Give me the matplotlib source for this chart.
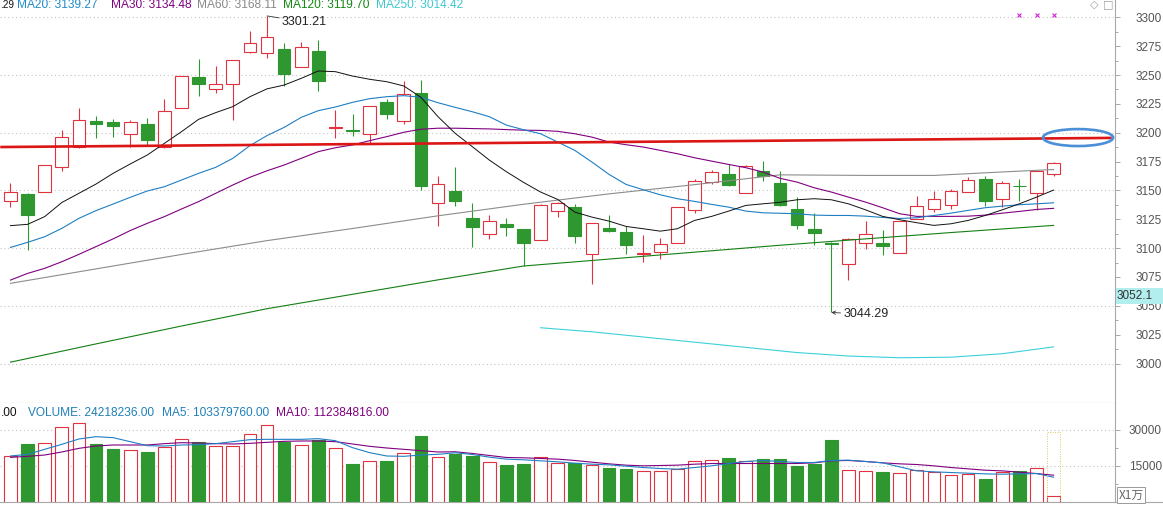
import numpy as np
import matplotlib
matplotlib.use("Agg")
import matplotlib.pyplot as plt
from matplotlib.patches import Ellipse, Rectangle

W, H = 1163, 505

# daily candles (index 0..61)
opens = [3141.1, 3146.9, 3148.3, 3170.0, 3187.9, 3210.1, 3209.3, 3198.6, 3207.5, 3187.9,
         3221.1, 3248.3, 3237.6, 3241.9, 3270.2, 3269.4, 3272.2, 3257.2, 3270.8, 3203.8,
         3202.6, 3198.6, 3226.6, 3209.9, 3234.4, 3138.8, 3149.5, 3125.8, 3111.9, 3120.9,
         3116.5, 3107.2, 3132.4, 3135.3, 3094.8, 3117.1, 3113.6, 3095.1, 3096.5, 3104.6,
         3133.2, 3157.2, 3163.9, 3148.0, 3167.1, 3156.6, 3133.5, 3116.2, 3104.6, 3086.4,
         3104.6, 3104.6, 3095.7, 3125.4, 3133.8, 3137.6, 3148.8, 3160.1, 3142.5, 3154.0,
         3148.0, 3164.5]
highs = [3156.4, 3148.0, 3172.0, 3202.4, 3221.1, 3214.5, 3212.2, 3211.0, 3212.5, 3229.2,
         3249.0, 3263.9, 3257.8, 3263.0, 3288.1, 3301.21, 3277.4, 3278.9, 3280.3, 3219.7,
         3215.9, 3223.0, 3228.9, 3244.8, 3245.7, 3162.8, 3170.6, 3139.4, 3128.7, 3126.1,
         3117.0, 3138.0, 3140.0, 3138.2, 3122.0, 3128.3, 3118.8, 3111.0, 3108.4, 3136.0,
         3159.8, 3167.9, 3172.5, 3172.3, 3175.1, 3167.1, 3144.2, 3130.6, 3105.0, 3108.5,
         3123.4, 3115.9, 3123.3, 3144.8, 3149.4, 3151.4, 3161.6, 3162.7, 3158.1, 3159.5,
         3167.5, 3174.5]
lows = [3135.9, 3098.4, 3148.3, 3167.0, 3187.0, 3195.7, 3196.3, 3187.9, 3188.8, 3187.0,
        3221.1, 3232.1, 3234.1, 3210.7, 3268.8, 3264.4, 3240.5, 3257.0, 3236.4, 3195.7,
        3197.4, 3190.8, 3212.2, 3207.8, 3150.3, 3119.4, 3136.8, 3101.2, 3107.6, 3110.8,
        3084.5, 3107.0, 3126.9, 3104.3, 3069.1, 3113.9, 3094.5, 3087.9, 3090.8, 3104.4,
        3130.3, 3155.2, 3153.5, 3148.0, 3158.4, 3136.1, 3116.5, 3102.9, 3044.29, 3072.0,
        3099.4, 3094.2, 3095.5, 3125.0, 3131.2, 3134.1, 3148.5, 3136.1, 3135.5, 3140.8,
        3132.7, 3162.4]
closes = [3148.4, 3129.0, 3172.0, 3196.0, 3210.7, 3207.8, 3205.8, 3209.0, 3194.0, 3218.8,
          3248.8, 3242.5, 3241.9, 3262.7, 3277.4, 3283.2, 3251.2, 3274.0, 3245.1, 3204.7,
          3201.2, 3222.8, 3216.5, 3233.2, 3154.1, 3155.6, 3141.1, 3118.6, 3123.5, 3118.6,
          3104.1, 3137.6, 3139.3, 3110.4, 3122.0, 3114.7, 3102.6, 3096.0, 3103.8, 3135.8,
          3158.4, 3165.6, 3154.6, 3171.4, 3162.1, 3137.6, 3119.9, 3113.3, 3103.8, 3108.1,
          3112.4, 3101.7, 3123.1, 3136.7, 3142.8, 3149.7, 3159.2, 3141.0, 3156.6, 3153.5,
          3167.1, 3174.0]

# volume in units of 1万
volumes = [19040, 24170, 24440, 31110, 32780, 24170, 22080, 21670, 20830, 22780,
           26110, 24860, 23470, 23470, 28190, 31940, 24860, 23610, 25830, 22360,
           15830, 16940, 17080, 20280, 27500, 18640, 19950, 19110, 16460, 15350,
           15760, 18830, 16320, 16320, 15210, 14090, 13670, 13110, 13110, 13670,
           16880, 17300, 18140, 16880, 17720, 17720, 14930, 15760, 25810, 13530,
           13110, 12420, 12280, 13250, 12560, 11160, 11580, 9490, 12560, 12830,
           14370, 2370]

ma10 = [3119.5, 3120.6, 3127.3, 3139.5, 3147.5, 3155.5, 3164.8, 3172.9, 3180.7, 3190.8,
        3200.9, 3211.6, 3217.4, 3222.6, 3231.2, 3238.0, 3241.3, 3247.1, 3253.5, 3252.9,
        3249.1, 3246.3, 3244.2, 3240.5, 3230.7, 3213.9, 3199.5, 3188.0, 3176.3, 3166.2,
        3157.0, 3148.6, 3142.2, 3131.2, 3126.9, 3123.4, 3118.8, 3116.8, 3114.7, 3116.8,
        3124.0, 3127.5, 3132.1, 3137.0, 3138.4, 3139.7, 3141.9, 3142.8, 3141.9, 3138.4,
        3133.2, 3127.5, 3124.6, 3122.0, 3119.7, 3121.1, 3124.0, 3128.3, 3133.2, 3138.4,
        3144.2, 3150.3]
ma20 = [3100.6, 3105.0, 3109.9, 3117.1, 3125.8, 3132.5, 3138.2, 3144.0, 3149.5, 3153.2,
        3159.0, 3164.8, 3170.0, 3177.8, 3188.8, 3197.5, 3204.6, 3213.3, 3219.1, 3222.3,
        3226.3, 3229.5, 3231.2, 3232.1, 3230.7, 3226.0, 3222.0, 3218.2, 3213.9, 3206.6,
        3202.6, 3199.1, 3191.9, 3184.7, 3174.6, 3163.9, 3155.2, 3150.6, 3146.2, 3142.8,
        3140.5, 3137.9, 3135.5, 3132.1, 3130.6, 3130.2, 3129.8, 3128.6, 3128.3, 3128.3,
        3127.7, 3126.6, 3125.7, 3126.3, 3128.3, 3130.3, 3132.7, 3135.0, 3136.4, 3137.6,
        3138.4, 3139.27]
ma30 = [3072.3, 3078.1, 3082.5, 3088.2, 3094.6, 3101.3, 3108.0, 3115.2, 3121.5, 3127.3,
        3133.9, 3140.3, 3147.5, 3154.7, 3161.4, 3167.0, 3172.0, 3177.8, 3183.6, 3187.0,
        3189.4, 3193.1, 3196.6, 3200.4, 3203.0, 3203.9, 3203.9, 3203.6, 3203.3, 3202.7,
        3202.2, 3202.0, 3201.2, 3199.1, 3196.2, 3191.9, 3189.6, 3187.6, 3184.7, 3181.8,
        3178.3, 3175.4, 3172.5, 3169.7, 3165.9, 3160.5, 3157.2, 3152.3, 3148.6, 3144.2,
        3139.9, 3135.0, 3129.8, 3127.5, 3127.5, 3127.5, 3127.7, 3128.6, 3130.3, 3131.8,
        3133.5, 3134.48]
ma60_idx = [0, 5, 10, 15, 20, 25, 30, 35, 40, 45, 50, 54, 58, 61]
ma60 = [3069.5, 3082.0, 3094.5, 3106.5, 3117.0, 3128.0, 3138.0, 3147.0, 3155.0, 3163.5,
        3163.0, 3163.0, 3166.0, 3168.11]
ma120_idx = [0, 5, 10, 15, 20, 25, 30, 35, 40, 45, 50, 55, 61]
ma120 = [3001.2, 3017.0, 3032.5, 3047.5, 3060.0, 3072.5, 3084.5, 3090.5, 3096.5, 3102.5,
         3108.0, 3113.5, 3119.70]
ma250_idx = [31, 34, 37, 40, 43, 46, 49, 52, 55, 58, 61]
ma250 = [3031.0, 3027.5, 3023.0, 3018.5, 3014.0, 3009.5, 3006.5, 3005.0, 3005.5, 3008.5, 3014.42]

vol_ma5 = [19170, 19860, 21950, 24030, 26250, 27220, 26810, 25140, 23470, 23330,
           23750, 23890, 24310, 25140, 25970, 26110, 26110, 26110, 26390, 25560,
           22640, 20560, 19170, 19030, 19580, 19860, 20510, 19810, 18690, 17860,
           17580, 17160, 16740, 16180, 15760, 15480, 14930, 14370, 13950, 13670,
           14370, 15070, 16040, 16880, 17300, 16880, 16460, 16460, 17300, 17440,
           16880, 16320, 14650, 12970, 12560, 12280, 12000, 11720, 11580, 11720,
           11860, 10320]
vol_ma10 = [18610, 19030, 19580, 20840, 22360, 23330, 23750, 23750, 23750, 24310,
            24720, 24590, 24310, 24170, 24450, 24860, 25280, 25420, 25420, 25140,
            24170, 23200, 22500, 21950, 21390, 20840, 20930, 20230, 19390, 18550,
            18410, 18140, 17860, 17300, 16600, 15900, 15350, 15070, 15210, 15350,
            15760, 16040, 16040, 16040, 16040, 16040, 16040, 16320, 17160, 17300,
            16880, 16320, 15900, 15620, 15070, 14370, 13810, 13250, 12970, 12420,
            11860, 11160]

# hand-drawn trend line and its circle mark
trend_x = [-0.6, 64.4]
trend_y = [3187.6, 3195.5]
mark_center = (62.43, 3195.8)
mark_size = (4.1, 14.7)

RED = "#e0333f"
GREEN = "#2f972f"
GRID = "#c4c4c4"
AXC = "#a8a8a8"

plt.rcParams["font.family"] = ["Liberation Sans", "DejaVu Sans"]


def fx(px):
    return px / W


def fy(py):
    return 1 - py / H


fig = plt.figure(figsize=(W / 100, H / 100), dpi=100)
ax = fig.add_axes([0, fy(403), fx(1115), 403 / H])
axv = fig.add_axes([0, fy(502), fx(1115), (502 - 403) / H])

x = np.arange(len(opens))
o = np.array(opens); c = np.array(closes)
up = c >= o
cols = np.where(up, RED, GREEN)

# ---- price panel
ax.set_xlim(-0.614, 64.59)
ax.set_ylim(2965.8, 3315.0)
for lv in range(3000, 3301, 50):
    ax.axhline(lv, color=GRID, lw=0.8, ls=(0, (1, 2.5)), zorder=1)

ax.vlines(x, lows, highs, colors=cols, lw=0.8, zorder=2)
bot = np.minimum(o, c)
hgt = np.maximum(np.abs(c - o), 0.7)
ax.bar(x[up], hgt[up], bottom=bot[up], width=0.74, facecolor="white",
       edgecolor=RED, lw=0.8, zorder=3)
ax.bar(x[~up], hgt[~up], bottom=bot[~up], width=0.74, facecolor=GREEN,
       edgecolor=GREEN, lw=0.8, zorder=3)

ax.plot(ma120_idx, ma120, color="#157f15", lw=0.8, zorder=4)
ax.plot(ma250_idx, ma250, color="#3cd0d8", lw=0.8, zorder=4)
ax.plot(ma60_idx, ma60, color="#8c8c8c", lw=0.8, zorder=4)
ax.plot(x, ma30, color="#800080", lw=0.8, zorder=4)
ax.plot(x, ma20, color="#1f7fc4", lw=0.8, zorder=4)
ax.plot(x, ma10, color="#111111", lw=0.7, zorder=4)

ax.plot(trend_x, trend_y, color="#dc1515", lw=1.9, zorder=5, solid_capstyle="butt")
ax.add_patch(Ellipse(mark_center, mark_size[0], mark_size[1], fill=False,
                     edgecolor="#4a8fd8", lw=1.9, zorder=6, clip_on=False))

ax.scatter([59, 60, 61], [3302, 3302, 3302], marker="x", s=8, color="#d020d0",
           lw=0.8, zorder=6)

ax.annotate("3301.21", xy=(15, 3301.21), xytext=(15, -6), textcoords="offset pixels",
            ha="left", va="center", fontsize=9, color="#222222",
            arrowprops=dict(arrowstyle="-", color="#333333", lw=0.6,
                            shrinkA=0, shrinkB=0))
ax.annotate("3044.29", xy=(48, 3044.29), xytext=(12, -2), textcoords="offset pixels",
            ha="left", va="center", fontsize=9, color="#222222",
            arrowprops=dict(arrowstyle="->", color="#333333", lw=0.6,
                            shrinkA=0, shrinkB=0, mutation_scale=6))

ax.yaxis.tick_right()
ax.set_yticks(np.arange(3000, 3301, 25))
ax.set_yticks(np.arange(3012.5, 3300, 25), minor=True)
ax.tick_params(axis="y", which="major", length=3.6, width=0.6, color="#999999",
               labelsize=8.5, labelcolor="#555555", pad=30.2)
ax.tick_params(axis="y", which="minor", length=2, width=0.6, color="#999999")
for lab in ax.get_yticklabels():
    lab.set_horizontalalignment("right")
ax.set_xticks([])
for s in ("left", "top"):
    ax.spines[s].set_visible(False)
ax.spines["right"].set_color(AXC)
ax.spines["bottom"].set_color(AXC)
ax.spines["bottom"].set_linewidth(0.8)

# ---- volume panel
axv.set_xlim(-0.614, 64.59)
axv.set_ylim(0, 41250)
for lv in (15000, 30000):
    axv.axhline(lv, color=GRID, lw=0.8, ls=(0, (1, 2.5)), zorder=1)
v = np.array(volumes)
axv.bar(x[up], v[up], width=0.74, facecolor="white", edgecolor=RED, lw=0.8, zorder=3)
axv.bar(x[~up], v[~up], width=0.74, facecolor=GREEN, edgecolor=GREEN, lw=0.8, zorder=3)
axv.plot(x, vol_ma10, color="#800080", lw=0.8, zorder=4)
axv.plot(x, vol_ma5, color="#1f7fc4", lw=0.8, zorder=4)
axv.add_patch(Rectangle((61 - 0.4, 0), 0.8, 29200, fill=False, edgecolor="#d8c860",
                        lw=0.7, ls=(0, (1, 1.5)), zorder=5))

axv.yaxis.tick_right()
axv.set_yticks([15000, 30000])
axv.set_yticks([7500, 22500], minor=True)
axv.tick_params(axis="y", which="major", length=3.6, width=0.6, color="#999999",
                labelsize=8.5, labelcolor="#555555", pad=30.2)
axv.tick_params(axis="y", which="minor", length=2, width=0.6, color="#999999")
for lab in axv.get_yticklabels():
    lab.set_horizontalalignment("right")
axv.set_xticks([])
axv.spines["left"].set_visible(False)
axv.spines["top"].set_visible(False)
axv.spines["right"].set_color(AXC)
axv.spines["bottom"].set_color(AXC)
fig.add_artist(plt.Line2D([fx(1115), 1], [fy(502), fy(502)], color=AXC, lw=0.8))

# ---- header texts
hdr = 8.6
base1 = fy(8.5)
fig.text(fx(0.5), base1, ".29", va="baseline", fontsize=7.2, color="#111111")
fig.text(fx(17), base1, "MA20: 3139.27", va="baseline", fontsize=hdr, color="#1f8ac8")
fig.text(fx(111), base1, "MA30: 3134.48", va="baseline", fontsize=hdr, color="#800080")
fig.text(fx(197), base1, "MA60: 3168.11", va="baseline", fontsize=hdr, color="#888888")
fig.text(fx(283), base1, "MA120: 3119.70", va="baseline", fontsize=hdr, color="#118811")
fig.text(fx(376), base1, "MA250: 3014.42", va="baseline", fontsize=hdr, color="#40c8d0")

base2 = fy(415.5)
fig.text(fx(0.5), base2, ".00", va="baseline", fontsize=hdr, color="#111111")
fig.text(fx(28), base2, "VOLUME: 24218236.00", va="baseline", fontsize=hdr, color="#1f7fb8")
fig.text(fx(162), base2, "MA5: 103379760.00", va="baseline", fontsize=hdr, color="#1f7fb8")
fig.text(fx(276), base2, "MA10: 112384816.00", va="baseline", fontsize=hdr, color="#800080")

# top-right icons
fig.text(fx(1090), fy(7.5), "\u25c7", va="baseline", fontsize=8, color="#a0a0a0",
         family=["DejaVu Sans"])
fig.text(fx(1103), fy(7.5), "\u25a1", va="baseline", fontsize=8, color="#a0a0a0",
         family=["DejaVu Sans"])

# current price tag on the axis
fig.add_artist(Rectangle((fx(1115.5), fy(303.5)), fx(47.5), 15.5 / H,
                         facecolor="#b2eeee", edgecolor="none"))
fig.text(fx(1117), fy(296), "3052.1", ha="left", va="center", fontsize=8.5, color="#333333")

# unit box
fig.text(fx(1131), fy(495), "X1万", ha="center", va="center", fontsize=8.5, color="#666666",
         family=["Noto Sans CJK SC", "DejaVu Sans"],
         bbox=dict(boxstyle="square,pad=0.15", facecolor="white", edgecolor="#999999", lw=0.7))

fig.savefig("out.png", dpi=100)
